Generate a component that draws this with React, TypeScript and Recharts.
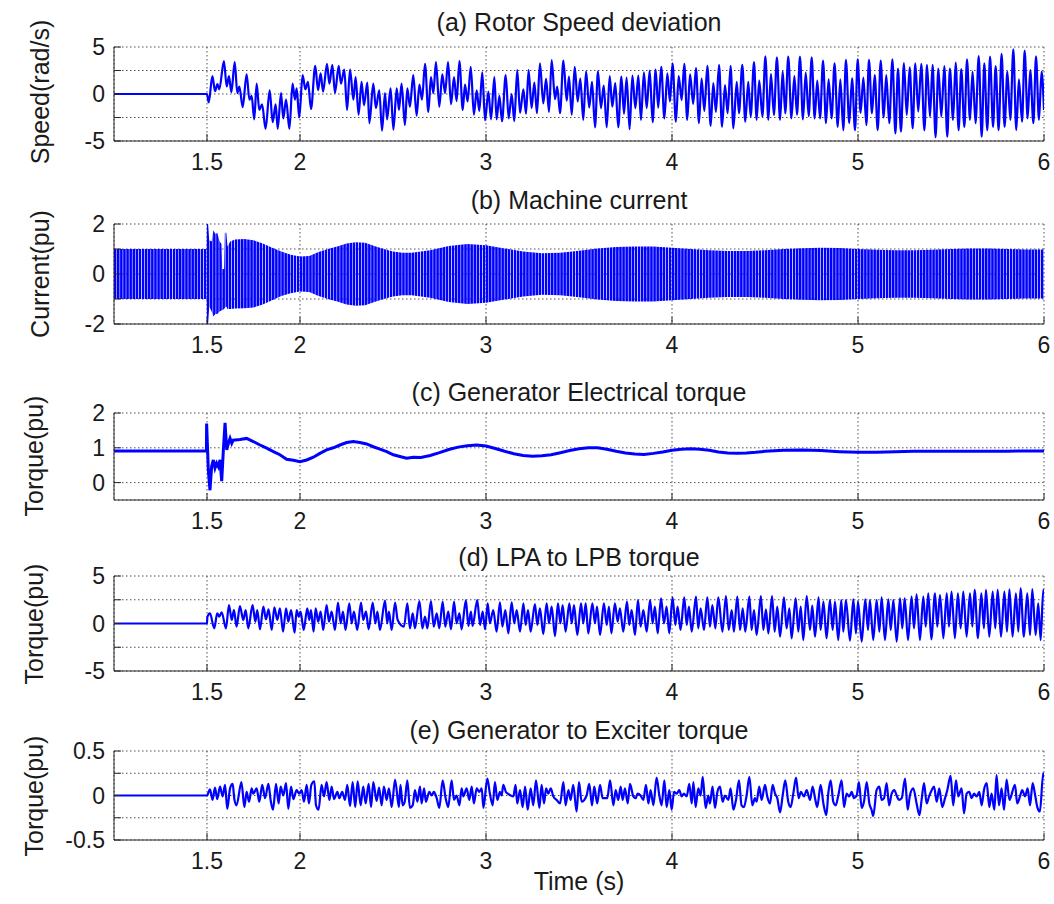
import React from 'react';
import { ComposedChart, Line, Area, XAxis, YAxis, CartesianGrid } from 'recharts';

// ---------- axes / ticks ----------
const xTicks = [1.5, 2, 3, 4, 5, 6];
const speedTicks = [-5, -2.5, 0, 2.5, 5];
const speedLabels = [-5, 0, 5];
const currentTicks = [-2, -1, 0, 1, 2];
const currentLabels = [-2, 0, 2];
const elecTicks = [0, 1, 2];
const elecLabels = [0, 1, 2];
const lpTicks = [-5, -2.5, 0, 2.5, 5];
const lpLabels = [-5, 0, 5];
const exTicks = [-0.5, -0.25, 0, 0.25, 0.5];
const exLabels = [-0.5, 0, 0.5];

// ---------- (a) rotor speed deviation [t, rad/s] ----------
const speedSeries: [number, number][] = [
[1,0],[1.5,0],[1.509,-0.9],[1.529,1.9],[1.543,0.3],[1.556,1.05],[1.566,0.5],[1.591,3.5],[1.606,0.8],[1.618,1.9],[1.631,0.2],[1.649,3.4],[1.663,0.1],[1.674,0.8],[1.692,-1.4],[1.713,2.1],[1.728,-0.6],[1.74,-0.2],[1.754,-2.7],[1.767,1.1],[1.781,-1.7],[1.796,-1.1],[1.815,-3.7],[1.837,0.4],[1.853,-3.0],[1.869,-1.1],[1.88,-3.7],[1.898,0.1],[1.91,-2.6],[1.925,-0.6],[1.943,-3.7],[1.96,1.1],[1.973,-0.6],[1.982,0.6],[1.996,-2.5],[2.014,2.0],[2.029,0.5],[2.043,1.3],[2.059,-1.6],[2.082,3.0],[2.097,0.4],[2.111,2.2],[2.124,0.25],[2.145,3.2],[2.158,1.1],[2.174,3.1],[2.188,0.1],[2.208,3.0],[2.22,1.1],[2.238,2.6],[2.253,-1.7],[2.269,2.6],[2.287,-0.6],[2.299,1.8],[2.315,-2.2],[2.331,1.3],[2.344,-1.2],[2.362,1.2],[2.373,-3.1],[2.394,1.1],[2.408,-1.5],[2.426,0.4],[2.441,-3.9],[2.457,0.1],[2.468,-2.7],[2.487,0.6],[2.502,-3.8],[2.52,0.6],[2.532,-1.7],[2.546,1.1],[2.564,-3.3],[2.577,0.6],[2.591,-1.35],[2.609,2.0],[2.627,-2.3],[2.642,1.0],[2.656,-0.6],[2.672,3.2],[2.69,-1.9],[2.704,1.8],[2.717,0.1],[2.731,3.4],[2.749,-1.35],[2.765,2.1],[2.78,0.1],[2.796,3.4],[2.812,-1.1],[2.828,1.8],[2.842,-0.75],[2.857,3.5],[2.875,-1.7],[2.887,1.0],[2.901,-0.8],[2.918,2.9],[2.935,-2.2],[2.95,0.4],[2.964,-1.8],[2.98,2.3],[2.995,-2.8],[3.013,0.25],[3.027,-2.7],[3.045,1.8],[3.057,-2.7],[3.072,-0.2],[3.086,-2.9],[3.106,2.0],[3.122,-2.6],[3.138,0.0],[3.152,-2.9],[3.168,2.55],[3.183,-2.0],[3.201,0.5],[3.215,-2.1],[3.229,2.55],[3.245,-1.5],[3.26,1.2],[3.274,-2.05],[3.29,3.25],[3.308,-1.0],[3.323,1.6],[3.339,-1.9],[3.353,3.6],[3.371,-0.55],[3.383,0.8],[3.398,-2.05],[3.416,3.55],[3.434,-0.7],[3.446,1.85],[3.461,-2.2],[3.477,2.9],[3.493,-0.8],[3.507,1.65],[3.523,-2.75],[3.538,2.4],[3.555,-1.45],[3.57,1.3],[3.586,-3.55],[3.602,2.4],[3.618,-1.5],[3.633,0.9],[3.649,-3.55],[3.665,1.9],[3.679,-1.35],[3.695,1.15],[3.711,-3.55],[3.728,1.85],[3.742,-2.1],[3.756,1.75],[3.772,-3.75],[3.787,1.95],[3.803,-1.5],[3.819,1.95],[3.833,-2.75],[3.849,2.3],[3.864,-1.5],[3.88,2.5],[3.896,-3.0],[3.912,2.6],[3.926,-1.45],[3.942,2.9],[3.959,-2.6],[3.975,2.2],[3.989,-0.8],[4.003,3.25],[4.021,-2.95],[4.036,1.9],[4.052,-0.65],[4.066,3.2],[4.082,-2.75],[4.097,2.1],[4.114,-1.05],[4.129,2.75],[4.145,-3.1],[4.159,1.65],[4.174,-1.8],[4.19,3.0],[4.208,-3.4],[4.222,1.15],[4.236,-1.9],[4.253,3.1],
[4.269,-3.5],[4.285,0.95],[4.299,-2.06],[4.315,3.0],[4.33,-3.65],[4.348,1.3],[4.36,-2.06],[4.378,3.1],[4.394,-2.95],[4.41,1.3],[4.423,-2.4],[4.441,3.4],[4.455,-2.75],[4.469,1.42],[4.486,-2.4],[4.502,4.0],[4.518,-2.75],[4.532,2.13],[4.548,-2.23],[4.564,3.9],[4.581,-2.75],[4.595,2.4],[4.609,-2.06],[4.625,3.97],[4.642,-2.6],[4.658,1.9],[4.672,-2.2],[4.688,3.97],[4.704,-2.7],[4.719,2.27],[4.735,-2.35],[4.751,3.9],[4.767,-2.6],[4.781,1.42],[4.796,-2.6],[4.812,3.55],[4.828,-3.1],[4.842,1.56],[4.858,-2.6],[4.874,3.27],[4.891,-3.5],[4.905,1.56],[4.921,-3.85],[4.935,3.62],[4.953,-3.1],[4.968,1.67],[4.984,-3.85],[4.998,3.69],[5.014,-2.0],[5.029,1.74],[5.045,-3.3],[5.059,3.62],[5.075,-2.06],[5.09,2.0],[5.106,-3.85],[5.122,3.55],[5.138,-2.5],[5.152,2.0],[5.168,-3.1],[5.185,3.69],[5.201,-4.2],[5.215,2.7],[5.231,-4.0],[5.247,3.3],[5.262,-2.23],[5.278,2.84],[5.294,-3.65],[5.308,3.27],[5.324,-1.88],[5.34,3.2],[5.357,-3.85],[5.371,3.1],[5.387,-2.4],[5.401,3.1],[5.417,-4.6],[5.432,2.7],[5.448,-2.4],[5.464,2.98],[5.48,-4.55],[5.494,2.7],[5.511,-2.75],[5.525,3.33],[5.541,-3.85],[5.555,2.66],[5.572,-3.5],[5.586,3.69],[5.602,-2.75],[5.616,2.38],[5.632,-3.1],[5.649,4.04],[5.665,-4.55],[5.679,3.27],[5.695,-3.85],[5.71,3.97],[5.726,-3.5],[5.74,2.98],[5.756,-3.85],[5.772,4.26],[5.788,-3.5],[5.803,2.38],[5.819,-2.75],[5.835,4.75],[5.851,-3.85],[5.865,1.56],[5.882,-2.95],[5.896,4.61],[5.912,-2.6],[5.926,2.55],[5.943,-3.1],[5.957,4.0],[5.973,-2.75],[5.987,2.38],[6.0,-1.7]
];

// ---------- (b) machine current envelope [t, upper, lower] (pu) ----------
const currentEnvelope: [number, number, number][] = [
[1.0,1.0,-1.0],[1.496,1.0,-1.0],[1.498,2.0,-2.0],[1.506,2.0,-2.0],[1.512,1.35,-1.3],[1.525,1.3,-1.5],[1.534,1.75,-1.7],[1.545,1.6,-1.6],[1.555,1.65,-1.6],[1.568,1.3,-1.5],[1.578,1.2,-1.45],[1.582,0.2,-1.45],[1.592,0.2,-1.4],[1.596,1.65,-1.35],[1.604,1.65,-1.3],[1.61,1.1,-1.4],[1.625,1.3,-1.4],[1.65,1.38,-1.38],[1.7,1.4,-1.37],[1.75,1.35,-1.34],[1.8,1.22,-1.22],[1.85,1.05,-1.05],[1.9,0.9,-0.88],[1.95,0.77,-0.77],[2.0,0.7,-0.7],[2.05,0.72,-0.72],[2.1,0.88,-0.88],[2.15,1.0,-1.0],[2.2,1.1,-1.1],[2.25,1.22,-1.22],[2.3,1.27,-1.27],[2.35,1.25,-1.25],[2.4,1.12,-1.12],[2.45,1.0,-1.0],[2.5,0.9,-0.9],[2.55,0.85,-0.85],[2.6,0.85,-0.85],
[2.7,0.95,-0.95],[2.8,1.12,-1.12],[2.9,1.2,-1.2],[3.0,1.15,-1.15],[3.1,1.02,-1.02],[3.2,0.9,-0.9],[3.3,0.83,-0.83],[3.4,0.85,-0.85],[3.5,0.93,-0.93],[3.6,1.02,-1.02],[3.7,1.08,-1.08],[3.8,1.1,-1.1],[3.9,1.1,-1.1],[4.0,1.05,-1.05],[4.1,1.0,-1.0],[4.2,0.95,-0.95],[4.3,0.92,-0.92],[4.4,0.92,-0.92],[4.5,0.95,-0.95],[4.6,1.0,-1.0],[4.7,1.03,-1.03],[4.8,1.05,-1.05],[4.9,1.04,-1.04],[5.0,1.0,-1.0],[5.1,0.97,-0.97],[5.2,0.95,-0.95],[5.3,0.95,-0.95],[5.4,0.97,-0.97],[5.5,1.0,-1.0],[5.6,1.02,-1.02],[5.7,1.02,-1.02],[5.8,1.0,-1.0],[5.9,0.98,-0.98],[6.0,0.98,-0.98]
];

// ---------- (c) generator electrical torque [t, pu] ----------
const elecTorque: [number, number][] = [
[1,0.91],[1.497,0.91],[1.498,1.7],[1.507,0.37],[1.516,-0.22],[1.525,0.46],[1.534,0.65],[1.543,0.42],[1.552,0.56],[1.561,0.46],[1.57,0.65],[1.579,0.04],[1.588,0.94],[1.597,1.72],[1.606,0.94],[1.615,1.13],[1.624,1.27],[1.633,1.13],[1.641,1.22],[1.677,1.24],[1.713,1.27],[1.749,1.18],[1.785,1.08],[1.821,0.99],[1.857,0.89],[1.892,0.8],[1.928,0.67],[1.964,0.64],[2.0,0.6],[2.036,0.65],[2.072,0.73],[2.107,0.84],[2.143,0.94],[2.179,1.0],[2.215,1.08],[2.251,1.15],[2.287,1.18],[2.322,1.15],[2.358,1.11],[2.394,1.03],[2.43,0.96],[2.466,0.89],[2.502,0.8],[2.537,0.75],[2.573,0.7],[2.609,0.73],
[2.65,0.72],[2.7,0.78],[2.75,0.86],[2.8,0.95],[2.85,1.02],[2.9,1.06],[2.95,1.08],[3.0,1.05],[3.05,0.98],[3.1,0.9],[3.15,0.83],[3.2,0.78],[3.25,0.76],[3.3,0.77],[3.35,0.8],[3.4,0.86],[3.45,0.92],[3.5,0.97],[3.55,1.0],[3.6,1.0],[3.65,0.96],[3.7,0.9],[3.75,0.85],[3.8,0.82],[3.85,0.81],[3.9,0.84],[3.95,0.88],[4.0,0.93],[4.05,0.96],[4.1,0.97],[4.15,0.96],[4.2,0.93],[4.25,0.88],[4.3,0.85],[4.35,0.84],[4.4,0.85],[4.45,0.87],[4.5,0.9],[4.6,0.93],[4.7,0.94],[4.8,0.92],[4.9,0.89],[5.0,0.87],[5.1,0.87],[5.2,0.89],[5.3,0.9],[5.4,0.9],[5.5,0.9],[5.6,0.9],[5.7,0.9],[5.8,0.9],[5.9,0.91],[6.0,0.91]
];

// ---------- (d) LPA to LPB torque [t, pu] ----------
const lpTorque: [number, number][] = [
[1,0],[1.5,0],[1.502,0.7],[1.516,1.07],[1.539,-0.51],[1.555,1.07],[1.566,0.72],[1.579,1.18],[1.602,-0.51],[1.618,1.95],[1.633,0.37],[1.645,1.42],[1.659,-0.33],[1.677,1.84],[1.695,0.37],[1.708,1.42],[1.722,-0.51],[1.745,1.95],[1.76,0.19],[1.77,1.42],[1.785,-0.61],[1.803,1.77],[1.817,0.44],[1.831,1.49],[1.848,-0.68],[1.862,1.7],[1.878,0.37],[1.892,1.6],[1.909,-0.86],[1.925,1.6],[1.937,0.19],[1.952,1.42],[1.971,-0.96],[1.982,1.42],[1.993,0.72],[2.003,1.25],[2.02,-0.68],[2.039,1.6],[2.05,0.37],[2.059,1.42],[2.073,-0.86],[2.084,1.6],[2.098,0.19],[2.111,1.25],[2.125,-0.68],[2.143,1.95],[2.156,0.19],[2.17,1.25],[2.188,-0.68],[2.204,2.19],[2.219,0.02],[2.231,1.25],[2.245,-0.68],[2.265,2.12],[2.278,0.02],[2.29,1.25],[2.308,-0.68],[2.328,2.19],[2.34,0.37],[2.355,1.25],[2.369,-0.61],[2.391,2.19],[2.405,0.02],[2.416,1.25],[2.43,-0.68],[2.457,2.4],[2.469,0.02],[2.478,1.25],[2.493,-0.68],[2.511,2.19],[2.525,0.37],
[2.559,-0.33],[2.577,2.12],[2.591,-0.51],[2.606,1.07],[2.618,-0.51],[2.642,2.37],[2.658,-0.51],[2.672,0.72],[2.685,-0.51],[2.704,2.37],[2.719,-0.33],[2.735,1.07],[2.749,-0.51],[2.767,2.3],[2.781,-0.33],[2.797,1.25],[2.812,-0.61],[2.828,2.3],[2.842,0.02],[2.857,1.07],[2.869,-0.61],[2.892,2.47],[2.905,-0.26],[2.919,1.25],[2.928,-0.26],[2.953,2.47],[2.968,-0.16],[2.982,1.25],[2.995,-0.61],[3.009,2.12],[3.021,0.02],[3.039,1.42],[3.057,-0.86],[3.075,2.23],[3.088,-0.33],[3.104,1.42],[3.12,-1.04],[3.138,2.23],[3.152,0.02],[3.165,1.42],[3.183,-0.86],[3.201,2.12],[3.213,-0.16],[3.226,1.42],[3.24,-0.86],[3.263,2.05],[3.276,-0.16],[3.29,1.6],[3.308,-1.11],[3.326,2.12],[3.339,0.02],[3.353,1.77],[3.371,-1.32],[3.387,2.12],[3.4,0.02],[3.412,1.95],[3.428,-0.86],[3.448,2.12],[3.461,0.02],[3.473,1.95],[3.491,-1.21],[3.511,2.12],[3.523,0.02],[3.536,2.12],[3.55,-1.04],[3.572,2.12],[3.586,0.02],[3.597,1.77],[3.613,-1.21],[3.634,2.12],[3.649,-0.16],[3.661,1.77],[3.674,-1.04],[3.693,2.12],[3.708,0.19],[3.72,1.6],[3.738,-0.86],[3.758,2.3],[3.77,-0.16],[3.783,1.42],[3.801,-1.21],[3.817,2.47],[3.831,-0.33],[3.846,1.42],[3.864,-0.86],[3.882,2.47],[3.896,0.02],[3.908,1.77],[3.923,-1.04],[3.941,2.65],[3.957,0.02],[3.971,1.77],[3.985,-1.04],[4.003,2.75],[4.018,-0.16],[4.03,1.77],[4.046,-0.68],[4.066,2.75],[4.079,-0.16],[4.091,1.77],[4.106,-0.86],[4.129,2.82],[4.141,-0.51],[4.154,1.6],[4.172,-0.68],[4.19,2.75],[4.204,-0.33],[4.217,1.95],[4.233,-0.51],[4.249,2.75],
[4.271,-0.86],[4.29,2.89],[4.305,-0.68],[4.321,1.42],[4.333,-0.86],[4.351,2.82],[4.366,-0.68],[4.38,1.6],[4.394,-0.86],[4.416,2.82],[4.428,-0.68],[4.441,1.42],[4.455,-1.21],[4.478,2.89],[4.491,-0.68],[4.505,1.49],[4.518,-1.04],[4.538,2.89],[4.552,-0.86],[4.566,1.77],[4.581,-1.39],[4.602,2.75],[4.616,-0.51],[4.631,1.6],[4.643,-1.56],[4.665,2.65],[4.679,-0.86],[4.692,1.77],[4.706,-1.74],[4.724,2.89],[4.742,-0.68],[4.754,1.88],[4.769,-1.39],[4.788,2.75],[4.799,-0.68],[4.814,2.3],[4.831,-1.56],[4.849,2.47],[4.864,-0.68],[4.876,2.3],[4.894,-1.74],[4.91,2.47],[4.921,-0.86],[4.935,2.47],[4.957,-1.81],[4.975,2.54],[4.989,-1.04],[5.0,2.3],[5.02,-1.91],[5.039,2.54],[5.054,-0.68],[5.064,2.47],[5.082,-1.74],[5.1,2.47],[5.115,-0.86],[5.127,2.75],[5.145,-1.74],[5.163,2.54],[5.176,-0.68],[5.19,2.47],[5.208,-1.91],[5.226,2.65],[5.238,-0.51],[5.251,2.65],[5.269,-1.74],[5.288,2.82],[5.301,-0.51],[5.315,3.07],[5.333,-1.74],[5.351,2.82],[5.364,-0.33],[5.378,3.18],[5.394,-1.67],[5.414,3.18],[5.426,-0.33],[5.441,3.0],[5.459,-1.56],[5.477,3.18],[5.489,-0.33],[5.503,3.35],[5.521,-1.56],[5.537,3.18],[5.552,-0.51],[5.566,3.35],[5.584,-1.39],[5.602,3.18],[5.615,-0.33],[5.627,3.53],[5.645,-1.56],[5.663,3.18],[5.677,-0.51],[5.688,3.53],[5.706,-1.39],[5.724,3.35],[5.738,-0.51],[5.751,3.53],[5.769,-1.39],[5.787,3.35],[5.801,-0.86],[5.814,3.6],[5.831,-1.39],[5.849,3.18],[5.862,-0.86],[5.874,3.7],[5.892,-1.39],[5.91,3.18],[5.925,-1.21],[5.937,3.63],[5.955,-1.21],[5.969,2.12],[5.982,-1.74],[5.996,3.53],[6.0,3.0]
];

// ---------- (e) generator to exciter torque [t, pu] ----------
const exTorque: [number, number][] = [
[1,0],[1.5,0],[1.516,0.07],[1.53,-0.05],[1.543,0.09],[1.555,-0.04],[1.57,0.1],[1.584,-0.01],[1.597,0.12],[1.609,-0.15],[1.624,0.08],[1.638,0.13],[1.647,-0.04],[1.659,-0.11],[1.685,0.15],[1.701,-0.13],[1.713,0.04],[1.726,-0.07],[1.74,0.08],[1.749,0.02],[1.767,0.08],[1.781,-0.07],[1.797,0.12],[1.812,-0.03],[1.83,0.13],[1.842,-0.05],[1.855,-0.16],[1.871,0.13],[1.885,-0.09],[1.896,0.1],[1.91,0.0],[1.925,0.14],[1.937,-0.15],[1.952,0.1],[1.964,-0.04],[1.982,0.06],[1.996,0.02],[2.009,0.06],[2.021,-0.07],[2.036,0.12],[2.048,-0.09],[2.061,0.12],[2.077,0.16],[2.086,-0.11],[2.1,-0.16],[2.116,0.12],[2.129,-0.01],[2.143,0.15],[2.158,-0.05],[2.17,0.1],[2.183,-0.04],[2.201,0.04],[2.211,-0.03],[2.227,0.04],[2.242,-0.05],[2.254,0.12],[2.269,-0.12],[2.283,0.15],[2.297,-0.13],[2.31,0.16],[2.326,-0.11],[2.34,0.1],[2.353,-0.09],[2.369,0.13],[2.382,-0.13],[2.394,0.15],[2.412,-0.06],[2.425,0.09],[2.439,-0.11],[2.451,0.1],[2.466,-0.05],[2.478,0.08],[2.493,-0.13],[2.511,0.18],[2.532,-0.13],[2.54,0.12],
[2.552,-0.11],[2.563,-0.07],[2.577,0.17],[2.591,-0.14],[2.606,-0.11],[2.618,0.06],[2.631,-0.07],[2.645,0.1],[2.654,-0.09],[2.667,0.08],[2.677,-0.07],[2.695,0.04],[2.708,0.0],[2.72,0.04],[2.735,-0.03],[2.749,-0.14],[2.767,0.17],[2.783,-0.03],[2.797,-0.13],[2.815,0.17],[2.828,-0.05],[2.842,0.0],[2.857,-0.11],[2.869,0.08],[2.878,-0.01],[2.896,0.08],[2.91,-0.05],[2.923,0.1],[2.935,-0.09],[2.95,0.08],[2.964,0.04],[2.977,0.08],[2.986,-0.14],[3.007,0.19],[3.021,0.02],[3.036,-0.11],[3.048,0.15],[3.061,-0.05],[3.075,0.04],[3.084,0.0],[3.093,0.12],[3.107,0.04],[3.118,0.02],[3.133,0.0],[3.147,-0.01],[3.159,0.12],[3.168,-0.09],[3.183,0.06],[3.197,-0.13],[3.21,0.1],[3.224,-0.16],[3.24,0.08],[3.254,-0.11],[3.269,0.17],[3.287,-0.14],[3.299,0.12],[3.312,-0.09],[3.323,0.08],[3.335,0.02],[3.348,0.08],[3.362,-0.01],[3.38,-0.05],[3.398,-0.09],[3.416,0.15],[3.428,-0.11],[3.443,0.06],[3.455,-0.05],[3.469,0.12],[3.487,-0.18],[3.5,0.15],[3.514,-0.07],[3.541,0.0],[3.555,0.13],[3.57,-0.11],[3.582,0.1],[3.598,-0.09],[3.613,0.12],[3.627,-0.03],[3.652,-0.03],[3.667,0.17],[3.685,-0.11],[3.697,0.06],[3.711,-0.05],[3.724,0.1],[3.735,-0.05],[3.747,0.08],[3.762,-0.09],[3.774,0.13],[3.792,-0.01],[3.805,-0.03],[3.815,0.02],[3.831,0.0],[3.846,-0.05],[3.86,0.12],[3.873,-0.09],[3.885,0.06],[3.9,-0.11],[3.917,0.2],[3.932,0.0],[3.944,-0.11],[3.959,0.17],[3.971,-0.13],[3.986,0.06],[3.998,-0.16],[4.011,0.04],[4.025,0.02],[4.039,0.06],[4.052,-0.01],[4.064,0.02],[4.079,-0.01],[4.093,0.13],[4.106,-0.09],[4.115,0.15],[4.127,-0.13],[4.141,0.08],[4.154,0.0],[4.165,0.21],[4.181,-0.14],[4.195,0.0],[4.204,-0.09],[4.218,0.1],[4.231,-0.14],[4.244,0.04],
[4.258,0.1],[4.272,-0.07],[4.285,0.0],[4.303,-0.05],[4.315,0.08],[4.33,-0.16],[4.344,-0.05],[4.36,0.17],[4.374,-0.11],[4.387,-0.13],[4.401,0.0],[4.416,0.21],[4.432,-0.11],[4.446,-0.03],[4.455,-0.07],[4.469,0.1],[4.482,-0.05],[4.5,0.12],[4.512,-0.01],[4.527,-0.09],[4.541,0.12],[4.554,0.02],[4.566,-0.03],[4.581,-0.19],[4.595,0.0],[4.609,0.17],[4.625,-0.07],[4.638,-0.13],[4.652,0.02],[4.667,0.2],[4.681,-0.03],[4.693,0.04],[4.71,-0.01],[4.724,0.06],[4.742,-0.05],[4.756,0.1],[4.769,-0.03],[4.781,-0.13],[4.799,0.12],[4.814,-0.09],[4.83,-0.22],[4.84,0.02],[4.853,0.17],[4.867,-0.07],[4.88,-0.11],[4.894,0.0],[4.912,0.17],[4.925,-0.13],[4.939,0.02],[4.953,-0.01],[4.966,0.04],[4.978,-0.03],[4.993,0.0],[5.005,0.15],[5.02,-0.14],[5.032,-0.07],[5.047,0.15],[5.061,-0.09],[5.073,-0.16],[5.082,-0.23],[5.1,0.06],[5.115,0.1],[5.127,-0.05],[5.14,-0.03],[5.154,0.14],[5.167,-0.11],[5.181,0.02],[5.195,0.06],[5.208,0.0],[5.22,-0.05],[5.235,-0.03],[5.253,0.19],[5.267,-0.16],[5.279,0.0],[5.297,0.08],[5.315,-0.09],[5.33,-0.22],[5.342,-0.05],[5.355,0.14],[5.369,-0.09],[5.382,-0.01],[5.396,0.06],[5.409,0.1],[5.423,-0.07],[5.437,0.08],[5.453,-0.13],[5.468,-0.03],[5.48,0.06],[5.498,0.22],[5.512,-0.11],[5.527,0.17],[5.539,-0.01],[5.557,0.08],[5.57,-0.2],[5.584,0.02],[5.598,0.04],[5.611,-0.03],[5.624,0.02],[5.638,-0.01],[5.652,0.04],[5.665,-0.11],[5.677,0.06],[5.692,0.14],[5.706,-0.13],[5.718,0.02],[5.733,-0.16],[5.745,0.23],[5.758,-0.11],[5.772,0.08],[5.785,-0.16],[5.799,0.18],[5.814,-0.05],[5.844,0.12],[5.856,-0.09],[5.871,-0.01],[5.883,0.06],[5.898,-0.01],[5.912,0.08],[5.925,-0.11],[5.939,0.14],[5.951,0.02],[5.964,-0.13],[5.978,-0.18],[5.996,0.25],[6.0,0.2]
];

// ---------- layout constants ----------
const W = 1054;
const PLOT_LEFT = 114;
const PLOT_RIGHT = 1044;
const FONT = '"Liberation Sans", Arial, Helvetica, sans-serif';
const AXIS_COLOR = '#262626';
const TEXT_COLOR = '#1a1a1a';
const BLUE = '#0000ff';

const toPts = (arr: [number, number][]) => arr.map(([t, v]) => ({ t, v }));
const envPts = (arr: [number, number, number][]) => arr.map(([t, hi, lo]) => ({ t, r: [lo, hi] }));

type PanelProps = {
  top: number;
  h: number;
  domain: [number, number];
  ticks: number[];
  labels: number[];
  children: React.ReactNode;
};

function Panel({ top, h, domain, ticks, labels, children }: PanelProps) {
  const mt = 18;
  const xh = 44;
  const fmt = (v: number) => (labels.some((l) => Math.abs(l - v) < 1e-9) ? String(v) : '');
  const tickStyle = { fontSize: 23, fill: TEXT_COLOR, fontFamily: FONT };
  return (
    <div style={{ position: 'absolute', left: 0, top: top - mt, width: W, height: h + mt + xh }}>
      <ComposedChart
        width={W}
        height={h + mt + xh}
        margin={{ top: mt, right: W - PLOT_RIGHT, bottom: 0, left: 0 }}
        style={{ fontFamily: FONT, overflow: 'visible' }}
      >
        {children}
        <CartesianGrid stroke={AXIS_COLOR} strokeOpacity={0.8} strokeDasharray="1.5 2.5" />
        <XAxis
          dataKey="t"
          type="number"
          domain={[1, 6]}
          ticks={xTicks}
          allowDataOverflow
          height={xh}
          tickSize={-7}
          tickMargin={20}
          stroke={AXIS_COLOR}
          tick={tickStyle}
          tickFormatter={(v: number) => String(v)}
        />
        <XAxis
          xAxisId="top"
          orientation="top"
          type="number"
          domain={[1, 6]}
          ticks={xTicks}
          allowDataOverflow
          height={0}
          tickSize={-7}
          tick={false}
          stroke={AXIS_COLOR}
        />
        <YAxis
          type="number"
          domain={domain}
          ticks={ticks}
          allowDataOverflow
          width={PLOT_LEFT}
          tickSize={-7}
          tickMargin={16}
          stroke={AXIS_COLOR}
          tick={tickStyle}
          tickFormatter={fmt}
          interval={0}
        />
        <YAxis
          yAxisId="right"
          orientation="right"
          type="number"
          domain={domain}
          ticks={ticks}
          allowDataOverflow
          width={0}
          tickSize={-7}
          tick={false}
          stroke={AXIS_COLOR}
        />
      </ComposedChart>
    </div>
  );
}

const titleStyle: React.CSSProperties = {
  position: 'absolute',
  left: (PLOT_LEFT + PLOT_RIGHT) / 2,
  transform: 'translate(-50%, -50%)',
  fontFamily: FONT,
  fontSize: 25,
  color: TEXT_COLOR,
  whiteSpace: 'nowrap',
};

function Title({ y, text }: { y: number; text: string }) {
  return <div style={{ ...titleStyle, top: y }}>{text}</div>;
}

function YLabel({ x, y, text }: { x: number; y: number; text: string }) {
  return (
    <div
      style={{
        position: 'absolute',
        left: x,
        top: y,
        transform: 'translate(-50%, -50%) rotate(-90deg)',
        fontFamily: FONT,
        fontSize: 25,
        color: TEXT_COLOR,
        whiteSpace: 'nowrap',
      }}
    >
      {text}
    </div>
  );
}

export default function App() {
  const lineProps = {
    dataKey: 'v',
    stroke: BLUE,
    strokeWidth: 2.2,
    dot: false,
    activeDot: false,
    isAnimationActive: false,
    type: 'monotone' as const,
  };
  return (
    <div style={{ position: 'absolute', left: 0, top: 0, width: W, height: 904, background: '#fff', overflow: 'hidden' }}>
      <Panel top={47} h={94} domain={[-5, 5]} ticks={speedTicks} labels={speedLabels}>
        <Line {...lineProps} data={toPts(speedSeries)} />
      </Panel>

      <Panel top={224} h={100} domain={[-2, 2]} ticks={currentTicks} labels={currentLabels}>
        <defs>
          <pattern id="curStripes" x={PLOT_LEFT} y={0} width={3.1} height={10} patternUnits="userSpaceOnUse">
            <rect x={0} y={0} width={2.5} height={10} fill={BLUE} />
          </pattern>
        </defs>
        <Area
          data={envPts(currentEnvelope)}
          dataKey="r"
          type="linear"
          stroke="none"
          fill="url(#curStripes)"
          fillOpacity={1}
          dot={false}
          activeDot={false}
          isAnimationActive={false}
        />
      </Panel>

      <Panel top={413} h={87} domain={[-0.5, 2]} ticks={elecTicks} labels={elecLabels}>
        <Line {...lineProps} type="linear" strokeWidth={3} data={toPts(elecTorque)} />
      </Panel>

      <Panel top={576} h={95} domain={[-5, 5]} ticks={lpTicks} labels={lpLabels}>
        <Line {...lineProps} data={toPts(lpTorque)} />
      </Panel>

      <Panel top={751} h={89} domain={[-0.5, 0.5]} ticks={exTicks} labels={exLabels}>
        <Line {...lineProps} data={toPts(exTorque)} />
      </Panel>

      <Title y={22} text="(a) Rotor Speed deviation" />
      <Title y={200} text="(b) Machine current" />
      <Title y={392} text="(c) Generator Electrical torque" />
      <Title y={557} text="(d) LPA to LPB torque" />
      <Title y={730} text="(e) Generator to Exciter torque" />
      <YLabel x={40} y={92} text="Speed(rad/s)" />
      <YLabel x={40} y={274} text="Current(pu)" />
      <YLabel x={34} y={456} text="Torque(pu)" />
      <YLabel x={34} y={624} text="Torque(pu)" />
      <YLabel x={34} y={796} text="Torque(pu)" />

      <div
        style={{
          position: 'absolute',
          left: (PLOT_LEFT + PLOT_RIGHT) / 2,
          top: 881,
          transform: 'translate(-50%, -50%)',
          fontFamily: FONT,
          fontSize: 25,
          color: TEXT_COLOR,
          whiteSpace: 'nowrap',
        }}
      >
        Time (s)
      </div>
    </div>
  );
}
